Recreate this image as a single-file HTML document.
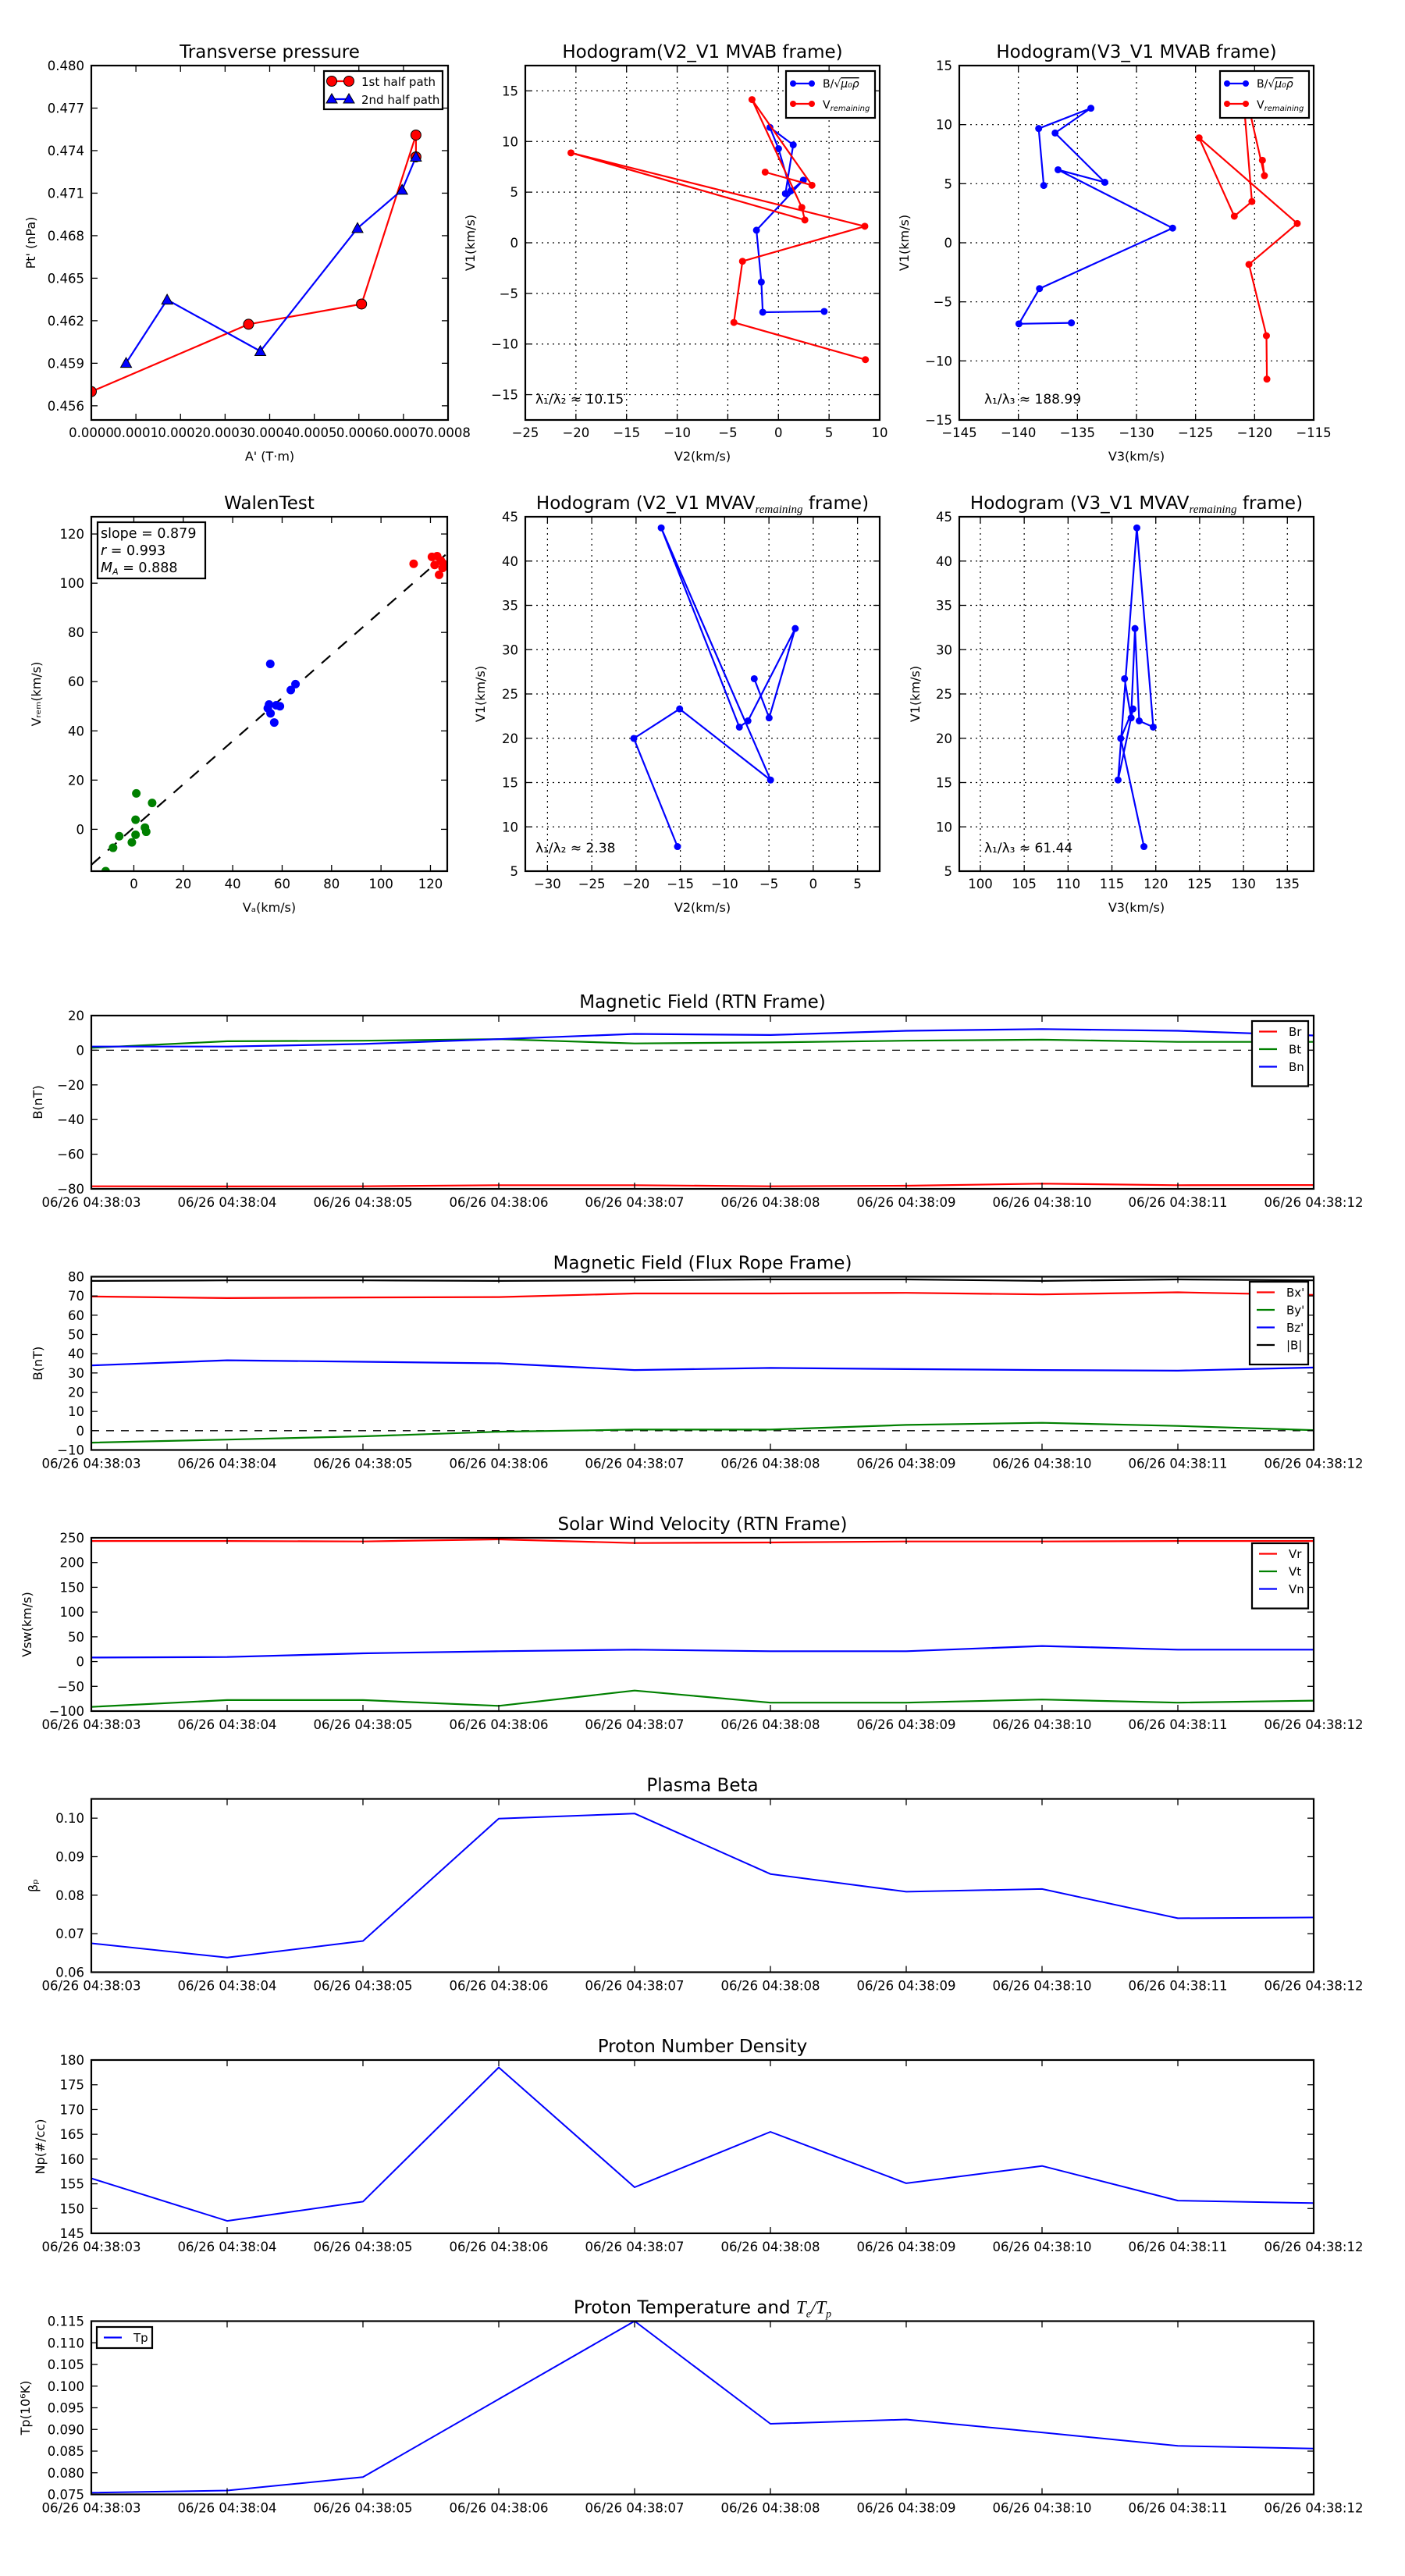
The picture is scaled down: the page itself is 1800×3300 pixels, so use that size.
<!DOCTYPE html>
<html><head><meta charset="utf-8"><title>Flux rope analysis</title>
<style>
html,body{margin:0;padding:0;background:#fff;}
svg{display:block;font-family:"DejaVu Sans","Liberation Sans",sans-serif;}
</style></head>
<body>
<svg id="fig" xmlns="http://www.w3.org/2000/svg" width="1800" height="3300" viewBox="0 0 1800 3300"></svg>
<script>
// ---------- data ----------
const tpRedX = [0, 0.0003526, 0.000606, 0.000728, 0.000728];
const tpRedY = [0.45700, 0.46175, 0.46318, 0.47510, 0.47356];
const tpBlueX = [0.000078, 0.000170, 0.000379, 0.000597, 0.000697, 0.000728];
const tpBlueY = [0.45902, 0.46348, 0.45985, 0.46853, 0.47123, 0.47356];
const tpXTicks = [0,0.0001,0.0002,0.0003,0.0004,0.0005,0.0006,0.0007,0.0008];
const tpYTicks = [0.456,0.459,0.462,0.465,0.468,0.471,0.474,0.477,0.480];

const hbV1 = [-6.78,-6.86,-3.88,1.24,6.18,5.12,9.29,11.39,9.67,4.85];
const hbV2 = [4.52,-1.55,-1.69,-2.17,2.46,1.22,0.01,-0.84,1.46,0.69];
const hbV3 = [-135.51,-139.95,-138.21,-126.94,-136.64,-132.68,-136.89,-133.86,-138.28,-137.85];
const hrV1 = [-11.54,-7.87,-1.83,1.63,8.88,2.25,3.49,14.14,5.68,6.98];
const hrV2 = [8.59,-4.40,-3.55,8.53,-20.49,2.61,2.31,-2.61,3.31,-1.31];
const hrV3 = [-118.96,-119.0,-120.48,-116.39,-124.70,-121.72,-120.23,-121.1,-119.17,-119.34];

const walGreenX = [1.0,7.4,0.7,4.5,5.0,0.7,-5.9,-0.8,-8.4,-11.4];
const walGreenY = [14.6,10.7,3.9,0.7,-1.0,-2.2,-2.8,-5.3,-7.5,-17.0];
const walBlueX = [55.2,65.4,63.5,54.7,54.2,57.6,59.1,55.3,56.8];
const walBlueY = [67.2,59.0,56.6,50.7,49.2,50.4,50.0,47.1,43.4];
const walRedX = [113.2,120.6,122.7,121.7,124.2,124.9,123.5,125.1,126.1];
const walRedY = [107.9,110.7,111.0,107.4,109.2,106.2,103.4,108.0,107.0];
const walSlope = 0.879;
const walIntercept = 0.7;

const mvV1 = [7.77,19.98,23.31,15.29,43.75,21.26,21.96,32.39,22.30,26.72];
const mvV2 = [-15.32,-20.25,-15.08,-4.82,-17.16,-8.34,-7.37,-2.03,-4.98,-6.66];
const mvV3 = [118.65,116.0,117.40,115.70,117.84,119.71,118.11,117.63,117.19,116.44];

const timeLabels = ["06/26 04:38:03","06/26 04:38:04","06/26 04:38:05","06/26 04:38:06","06/26 04:38:07","06/26 04:38:08","06/26 04:38:09","06/26 04:38:10","06/26 04:38:11","06/26 04:38:12"];
const Br = [-78.5,-78.6,-78.5,-77.9,-77.9,-78.5,-78.2,-77.0,-77.9,-77.8];
const Bt = [1.4,5.2,5.5,6.4,3.9,4.5,5.5,6.1,4.8,4.8];
const Bn = [2.1,2.1,3.6,6.4,9.4,8.8,11.2,12.2,11.2,8.5];
const Bx = [69.7,68.9,69.2,69.4,71.3,71.3,71.6,70.8,71.9,70.5];
const By = [-6.2,-4.6,-2.9,-0.5,0.6,0.6,3.0,4.1,2.5,0.3];
const Bz = [33.9,36.6,35.8,35.0,31.5,32.6,32.0,31.5,31.2,32.8];
const Bmag = [77.8,78.1,78.1,77.8,78.1,78.6,78.6,77.8,78.6,78.1];
const Vr = [243.6,243.6,242.6,246.8,239.4,240.5,242.6,242.6,243.6,243.6];
const Vt = [-91.5,-77.7,-77.7,-89.4,-58.6,-83.0,-83.0,-76.7,-83.0,-78.8];
const Vn = [8.2,9.3,16.7,20.9,24.1,20.9,20.9,31.5,24.1,24.1];
const beta = [0.0675,0.0638,0.0681,0.0999,0.1012,0.0855,0.0809,0.0816,0.0740,0.0742];
const Np = [156.1,147.5,151.4,178.5,154.3,165.5,155.1,158.6,151.6,151.1];
const Tp = [0.0754,0.0759,0.0790,0.0970,0.1150,0.0913,0.0923,0.0893,0.0862,0.0856];

// ---------- helpers ----------
const NS = "http://www.w3.org/2000/svg";
const svg = document.getElementById("fig");
function mk(tag, attrs, parent){
  const e = document.createElementNS(NS, tag);
  for (const k in attrs) e.setAttribute(k, attrs[k]);
  (parent || svg).appendChild(e);
  return e;
}
function fmtNum(v, d){ const s = v.toFixed(d); return s.replace("-", "\u2212"); }
function txt(x, y, s, size, anchor, name, parent, extra){
  const e = mk("text", Object.assign({x:x, y:y, "font-size":size, "text-anchor":anchor||"middle", fill:"#000"}, extra||{}), parent);
  e.textContent = s;
  
  
  return e;
}
function makeAxes(o){
  const g = mk("g", {});
  
  
  const sx = v => o.x0 + (v - o.xmin) / (o.xmax - o.xmin) * o.w;
  const sy = v => o.y0 + o.h - (v - o.ymin) / (o.ymax - o.ymin) * o.h;
  const clipId = "clip-" + o.name;
  const cp = mk("clipPath", {id: clipId}, g);
  mk("rect", {x:o.x0, y:o.y0, width:o.w, height:o.h}, cp);
  const plot = mk("g", {"clip-path":"url(#"+clipId+")"}, g);
  
  
  if (o.grid){
    o.xticks.forEach(v => {
      const l = mk("line", {x1:sx(v), x2:sx(v), y1:o.y0, y2:o.y0+o.h, stroke:"#000", "stroke-width":1.2, "stroke-dasharray":"2,5"}, plot);
      
      
    });
    o.yticks.forEach(v => {
      const l = mk("line", {x1:o.x0, x2:o.x0+o.w, y1:sy(v), y2:sy(v), stroke:"#000", "stroke-width":1.2, "stroke-dasharray":"2,5"}, plot);
      
      
    });
  }
  o.xticks.forEach((v, i) => {
    const X = sx(v);
    const t1 = mk("line", {x1:X, x2:X, y1:o.y0+o.h, y2:o.y0+o.h-8, stroke:"#000", "stroke-width":1.3}, g);
    
    
    const t2 = mk("line", {x1:X, x2:X, y1:o.y0, y2:o.y0+8, stroke:"#000", "stroke-width":1.3}, g);
    
    
    txt(X, o.y0+o.h+(o.xlabOff||23), o.xlabels[i], 16.5, "middle", "x-tick-label", g);
  });
  o.yticks.forEach((v, i) => {
    const Y = sy(v);
    const t1 = mk("line", {x1:o.x0, x2:o.x0+8, y1:Y, y2:Y, stroke:"#000", "stroke-width":1.3}, g);
    
    
    const t2 = mk("line", {x1:o.x0+o.w, x2:o.x0+o.w-8, y1:Y, y2:Y, stroke:"#000", "stroke-width":1.3}, g);
    
    
    txt(o.x0-9, Y+6, o.ylabels[i], 16.5, "end", "y-tick-label", g);
  });
  if (o.title) txt(o.x0+o.w/2, o.y0-10, o.title, 23, "middle", o.name+"-title", g);
  if (o.xtitle) txt(o.x0+o.w/2, o.y0+o.h+52, o.xtitle, 16, "middle", "x-axis-title", g);
  if (o.ytitle){
    const yx = o.ytx, yy = o.y0+o.h/2;
    txt(yx, yy, o.ytitle, 16, "middle", "y-axis-title", g, {transform:"rotate(-90 "+yx+" "+yy+")"});
  }
  return {g, plot, sx, sy, o};
}
function frame(ax){
  const o = ax.o;
  const r = mk("rect", {x:o.x0, y:o.y0, width:o.w, height:o.h, fill:"none", stroke:"#000", "stroke-width":2.2}, ax.g);
  
  
}
function series(ax, xs, ys, color, name, width){
  const pts = xs.map((x, i) => ax.sx(x).toFixed(1) + "," + ax.sy(ys[i]).toFixed(1)).join(" ");
  const p = mk("polyline", {points:pts, fill:"none", stroke:color, "stroke-width":width||2.2, "stroke-linejoin":"round"}, ax.plot);
  
  
  return p;
}
function dots(ax, xs, ys, color, r, name, stroke){
  xs.forEach((x, i) => {
    const c = mk("circle", {cx:ax.sx(x), cy:ax.sy(ys[i]), r:r, fill:color, stroke:stroke||"none", "stroke-width":1}, ax.plot);
    
    
  });
}
function tris(ax, xs, ys, color, s, name){
  xs.forEach((x, i) => {
    const X = ax.sx(x), Y = ax.sy(ys[i]);
    const p = mk("polygon", {points:`${X},${Y-s} ${X-s},${Y+s*0.8} ${X+s},${Y+s*0.8}`, fill:color, stroke:"#000", "stroke-width":1}, ax.plot);
    
    
  });
}
function box(x, y, w, h, name){
  const r = mk("rect", {x:x, y:y, width:w, height:h, fill:"#fff", stroke:"#000", "stroke-width":2.2});
  
  
  return r;
}
function legLine(x1, x2, y, color, name){
  const l = mk("line", {x1:x1, x2:x2, y1:y, y2:y, stroke:color, "stroke-width":2.2});
  
  
}
function subTitle(ax, pre, sub, post){
  const o = ax.o;
  const t = txt(o.x0+o.w/2, o.y0-10, pre, 23, "middle", o.name+"-title", ax.g);
  const s = mk("tspan", {"font-size":15, "font-style":"italic", "font-family":"Liberation Serif, serif", dy:5}, t); s.textContent = sub;
  const p = mk("tspan", {dy:-5}, t); p.textContent = post;
}
const ticksFmt = (arr, d) => arr.map(v => fmtNum(v, d));

// ---------- Row 1 ----------
const ax1 = makeAxes({name:"transverse-pressure", x0:117, y0:84, w:457, h:454, xmin:0, xmax:0.0008, ymin:0.455, ymax:0.480,
  xticks:tpXTicks, xlabels:ticksFmt(tpXTicks,4), yticks:tpYTicks, ylabels:ticksFmt(tpYTicks,3),
  title:"Transverse pressure", xtitle:"A' (T\u00b7m)", ytitle:"Pt' (nPa)", ytx:45, xlabOff:22});
series(ax1, tpRedX, tpRedY, "#ff0000", "first-half-path-line");
series(ax1, tpBlueX, tpBlueY, "#0000ff", "second-half-path-line");
dots(ax1, tpRedX, tpRedY, "#ff0000", 6.5, "first-half-point", "#000");
tris(ax1, tpBlueX, tpBlueY, "#0000ff", 7, "second-half-point");
frame(ax1);
box(415, 91, 152, 49, "pressure-legend");
legLine(425, 447, 104, "#ff0000", "legend-first-half-line");
{ const c1 = mk("circle",{cx:425,cy:104,r:6.5,fill:"#f00",stroke:"#000"});  
  const c2 = mk("circle",{cx:447,cy:104,r:6.5,fill:"#f00",stroke:"#000"});   }
legLine(425, 447, 127, "#0000ff", "legend-second-half-line");
{ const p1 = mk("polygon",{points:"425,120 418,132 432,132",fill:"#00f",stroke:"#000"});  
  const p2 = mk("polygon",{points:"447,120 440,132 454,132",fill:"#00f",stroke:"#000"});   }
txt(463, 110, "1st half path", 15, "start", "legend-first-half-label");
txt(463, 133, "2nd half path", 15, "start", "legend-second-half-label");

const hodoXT1 = [-25,-20,-15,-10,-5,0,5,10];
const hodoYT1 = [-15,-10,-5,0,5,10,15];
const ax2 = makeAxes({name:"hodogram-v2-v1-mvab", x0:673, y0:84, w:454, h:454, xmin:-25, xmax:10, ymin:-17.5, ymax:17.5,
  xticks:hodoXT1, xlabels:ticksFmt(hodoXT1,0), yticks:hodoYT1, ylabels:ticksFmt(hodoYT1,0), grid:true,
  title:"Hodogram(V2_V1 MVAB frame)", xtitle:"V2(km/s)", ytitle:"V1(km/s)", ytx:608, xlabOff:22});
series(ax2, hbV2, hbV1, "#0000ff", "b-alfven-hodogram-line");
dots(ax2, hbV2, hbV1, "#0000ff", 4.5, "b-alfven-point");
series(ax2, hrV2, hrV1, "#ff0000", "v-remaining-hodogram-line");
dots(ax2, hrV2, hrV1, "#ff0000", 4.5, "v-remaining-point");
frame(ax2);
txt(686, 517, "\u03bb\u2081/\u03bb\u2082 \u2248 10.15", 17, "start", "eigenvalue-ratio-label");

const hodoXT3 = [-145,-140,-135,-130,-125,-120,-115];
const ax3 = makeAxes({name:"hodogram-v3-v1-mvab", x0:1229, y0:84, w:454, h:454, xmin:-145, xmax:-115, ymin:-15, ymax:15,
  xticks:hodoXT3, xlabels:ticksFmt(hodoXT3,0), yticks:[-15,-10,-5,0,5,10,15], ylabels:ticksFmt([-15,-10,-5,0,5,10,15],0), grid:true,
  title:"Hodogram(V3_V1 MVAB frame)", xtitle:"V3(km/s)", ytitle:"V1(km/s)", ytx:1164, xlabOff:22});
series(ax3, hbV3, hbV1, "#0000ff", "b-alfven-hodogram-line");
dots(ax3, hbV3, hbV1, "#0000ff", 4.5, "b-alfven-point");
series(ax3, hrV3, hrV1, "#ff0000", "v-remaining-hodogram-line");
dots(ax3, hrV3, hrV1, "#ff0000", 4.5, "v-remaining-point");
frame(ax3);
txt(1261, 517, "\u03bb\u2081/\u03bb\u2083 \u2248 188.99", 17, "start", "eigenvalue-ratio-label");

function hodoLegend(x, y){
  box(x, y, 114, 60, "hodogram-legend");
  legLine(x+9, x+33, y+16, "#0000ff", "legend-b-line");
  legLine(x+9, x+33, y+42, "#ff0000", "legend-v-line");
  [[x+9,y+16,"#00f"],[x+33,y+16,"#00f"],[x+9,y+42,"#f00"],[x+33,y+42,"#f00"]].forEach(p => {
    const c = mk("circle",{cx:p[0],cy:p[1],r:4,fill:p[2]});
    
    
  });
  const t1 = txt(x+47, y+21, "B/\u221a", 14, "start", "legend-b-label");
  const ts = mk("tspan", {"font-style":"italic","text-decoration":"overline"}, t1); ts.textContent = "\u03bc\u2080\u03c1";
  const t2 = txt(x+47, y+48, "V", 14, "start", "legend-v-label");
  const ts2 = mk("tspan", {"font-size":10, "font-style":"italic", dy:3}, t2); ts2.textContent = "remaining";
}
hodoLegend(1007, 91);
hodoLegend(1563, 91);

// ---------- Row 2 ----------
const walXT = [0,20,40,60,80,100,120];
const walYT = [0,20,40,60,80,100,120];
const ax4 = makeAxes({name:"walen-test", x0:117, y0:662, w:456, h:454, xmin:-17.2, xmax:126.8, ymin:-17, ymax:127,
  xticks:walXT, xlabels:ticksFmt(walXT,0), yticks:walYT, ylabels:ticksFmt(walYT,0),
  title:"WalenTest", xtitle:"V\u2090(km/s)", ytitle:"V\u1d63\u2091\u2098(km/s)", ytx:52, xlabOff:22});
{
  const x1 = -17.2, x2 = 126.8;
  const l = mk("line", {x1:ax4.sx(x1), y1:ax4.sy(walSlope*x1+walIntercept), x2:ax4.sx(x2), y2:ax4.sy(walSlope*x2+walIntercept), stroke:"#000", "stroke-width":2.2, "stroke-dasharray":"15,13"}, ax4.plot);
  
  
}
dots(ax4, walGreenX, walGreenY, "#008000", 5.5, "walen-point-start");
dots(ax4, walBlueX, walBlueY, "#0000ff", 5.5, "walen-point-middle");
dots(ax4, walRedX, walRedY, "#ff0000", 5.5, "walen-point-end");
frame(ax4);
box(125, 669, 138, 72, "walen-stats-box");
txt(129, 689, "slope = 0.879", 17.5, "start", "walen-slope-label");
const rT = txt(129, 711, "r", 17.5, "start", "walen-r-label", null, {"font-style":"italic"});
{ const s = mk("tspan", {"font-style":"normal"}, rT); s.textContent = " = 0.993"; }
const maT = txt(129, 733, "M", 17.5, "start", "walen-ma-label", null, {"font-style":"italic"});
{ const s = mk("tspan", {"font-size":11, dy:3}, maT); s.textContent = "A"; const s2 = mk("tspan", {"font-style":"normal", dy:-3}, maT); s2.textContent = " = 0.888"; }

const mvXT2 = [-30,-25,-20,-15,-10,-5,0,5];
const mvYT = [5,10,15,20,25,30,35,40,45];
const ax5 = makeAxes({name:"hodogram-v2-v1-mvav", x0:673, y0:662, w:454, h:454, xmin:-32.5, xmax:7.5, ymin:5, ymax:45,
  xticks:mvXT2, xlabels:ticksFmt(mvXT2,0), yticks:mvYT, ylabels:ticksFmt(mvYT,0), grid:true,
  title:"", xtitle:"V2(km/s)", ytitle:"V1(km/s)", ytx:621, xlabOff:22});
subTitle(ax5, "Hodogram (V2_V1 MVAV", "remaining", " frame)");
series(ax5, mvV2, mvV1, "#0000ff", "mvav-hodogram-line");
dots(ax5, mvV2, mvV1, "#0000ff", 4.5, "mvav-point");
frame(ax5);
txt(686, 1092, "\u03bb\u2081/\u03bb\u2082 \u2248 2.38", 17, "start", "eigenvalue-ratio-label");

const mvXT3 = [100,105,110,115,120,125,130,135];
const ax6 = makeAxes({name:"hodogram-v3-v1-mvav", x0:1229, y0:662, w:454, h:454, xmin:97.6, xmax:138.0, ymin:5, ymax:45,
  xticks:mvXT3, xlabels:ticksFmt(mvXT3,0), yticks:mvYT, ylabels:ticksFmt(mvYT,0), grid:true,
  title:"", xtitle:"V3(km/s)", ytitle:"V1(km/s)", ytx:1178, xlabOff:22});
subTitle(ax6, "Hodogram (V3_V1 MVAV", "remaining", " frame)");
series(ax6, mvV3, mvV1, "#0000ff", "mvav-hodogram-line");
dots(ax6, mvV3, mvV1, "#0000ff", 4.5, "mvav-point");
frame(ax6);
txt(1261, 1092, "\u03bb\u2081/\u03bb\u2083 \u2248 61.44", 17, "start", "eigenvalue-ratio-label");

// ---------- time series ----------
const tIdx = timeLabels.map((_, i) => i);
function tsAxes(name, top, ymin, ymax, yt, d, title, ytitle, ytx){
  return makeAxes({name:name, x0:117, y0:top, w:1566, h:222, xmin:0, xmax:9, ymin:ymin, ymax:ymax,
    xticks:tIdx, xlabels:timeLabels, yticks:yt, ylabels:ticksFmt(yt,d), title:title, ytitle:ytitle, ytx:ytx, xlabOff:23});
}
function zeroLine(ax){
  const l = mk("line", {x1:ax.o.x0, x2:ax.o.x0+ax.o.w, y1:ax.sy(0), y2:ax.sy(0), stroke:"#000", "stroke-width":1.3, "stroke-dasharray":"10,9"}, ax.plot);
  
  
}
function tsLegend(x, y, w, labels, colors, name){
  box(x, y, w, 16 + labels.length*22.5, name);
  labels.forEach((lab, i) => {
    const yy = y + 13.5 + i*22.5;
    legLine(x+9, x+32, yy, colors[i], "legend-line-" + lab);
    txt(x+47, yy+5.5, lab, 15, "start", "legend-label");
  });
}
const D = -4;
const ytB = [-80,-60,-40,-20,0,20];
const axB = tsAxes("magnetic-field-rtn", 1305+D, -80, 20, ytB, 0, "Magnetic Field (RTN Frame)", "B(nT)", 54);
zeroLine(axB);
series(axB, tIdx, Br, "#ff0000", "br-line");
series(axB, tIdx, Bt, "#008000", "bt-line");
series(axB, tIdx, Bn, "#0000ff", "bn-line");
frame(axB);
tsLegend(1604, 1312+D, 72, ["Br","Bt","Bn"], ["#f00","#008000","#00f"], "rtn-field-legend");

const ytF = [-10,0,10,20,30,40,50,60,70,80];
const axF = tsAxes("magnetic-field-flux-rope", 1639.5+D, -10, 80, ytF, 0, "Magnetic Field (Flux Rope Frame)", "B(nT)", 54);
zeroLine(axF);
series(axF, tIdx, Bx, "#ff0000", "bx-line");
series(axF, tIdx, By, "#008000", "by-line");
series(axF, tIdx, Bz, "#0000ff", "bz-line");
series(axF, tIdx, Bmag, "#000000", "bmag-line");
frame(axF);
tsLegend(1601, 1646+D, 75, ["Bx'","By'","Bz'","|B|"], ["#f00","#008000","#00f","#000"], "flux-rope-legend");

const ytV = [-100,-50,0,50,100,150,200,250];
const axV = tsAxes("solar-wind-velocity", 1974+D, -100, 250, ytV, 0, "Solar Wind Velocity (RTN Frame)", "Vsw(km/s)", 40);
series(axV, tIdx, Vr, "#ff0000", "vr-line");
series(axV, tIdx, Vt, "#008000", "vt-line");
series(axV, tIdx, Vn, "#0000ff", "vn-line");
frame(axV);
tsLegend(1604, 1981+D, 72, ["Vr","Vt","Vn"], ["#f00","#008000","#00f"], "velocity-legend");

const ytBeta = [0.06,0.07,0.08,0.09,0.10];
const axBeta = tsAxes("plasma-beta", 2308.5+D, 0.06, 0.105, ytBeta, 2, "Plasma Beta", "\u03b2\u209a", 48);
series(axBeta, tIdx, beta, "#0000ff", "beta-line", 2);
frame(axBeta);

const ytN = [145,150,155,160,165,170,175,180];
const axN = tsAxes("proton-density", 2643+D, 145, 180, ytN, 0, "Proton Number Density", "Np(#/cc)", 57);
series(axN, tIdx, Np, "#0000ff", "density-line", 2);
frame(axN);

const ytT = [0.075,0.080,0.085,0.090,0.095,0.100,0.105,0.110,0.115];
const axT = tsAxes("proton-temperature", 2977.5+D, 0.075, 0.115, ytT, 3, "", "Tp(10\u2076K)", 38);
{
  const t = txt(117+783, 2977.5+D-10, "Proton Temperature and ", 23, "middle", "proton-temperature-title", axT.g);
  const a = mk("tspan", {"font-style":"italic", "font-family":"Liberation Serif, serif"}, t); a.textContent = "T";
  const b = mk("tspan", {"font-size":14, "font-style":"italic", "font-family":"Liberation Serif, serif", dy:5}, t); b.textContent = "e";
  const c = mk("tspan", {"font-style":"italic", "font-family":"Liberation Serif, serif", dy:-5}, t); c.textContent = "/T";
  const e = mk("tspan", {"font-size":14, "font-style":"italic", "font-family":"Liberation Serif, serif", dy:5}, t); e.textContent = "p";
}
series(axT, tIdx, Tp, "#0000ff", "temperature-line", 2);
frame(axT);
box(124, 2985+D, 71, 27, "temperature-legend");
legLine(133, 156, 2998.5+D, "#0000ff", "legend-line-Tp");
txt(171, 3004+D, "Tp", 15, "start", "legend-label");
</script>
</body></html>
